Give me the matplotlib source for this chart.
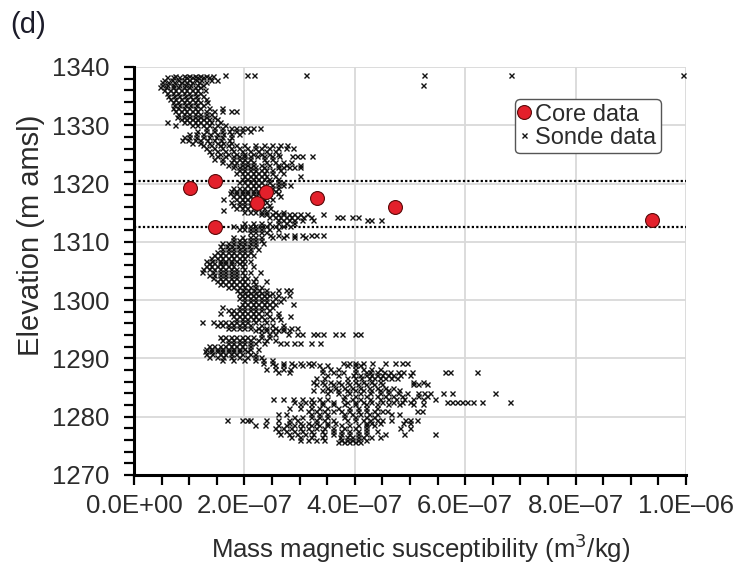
import numpy as np
import matplotlib
matplotlib.use("Agg")
import matplotlib.pyplot as plt
from matplotlib.ticker import MultipleLocator

plt.rcParams['font.family'] = ['Liberation Sans', 'DejaVu Sans']

SCALE = 1e-7  # susceptibility values below are in units of 1e-7 m3/kg

# ---- Core data ----
core_sus = [1.02, 1.47, 2.39, 2.23, 3.31, 1.47, 4.72, 9.38]
core_elev = [1319.2, 1320.4, 1318.6, 1316.7, 1317.5, 1312.5, 1315.9, 1313.7]

# ---- Sonde data (elevation, susceptibility values at that elevation) ----
sonde_upper = [
    (1338.7, [1.65, 2.05, 2.17, 3.12, 5.25, 6.83, 9.95]),
    (1338.5, [0.75, 0.9, 1.0, 1.1, 1.2, 1.3, 1.43]),
    (1338.2, [0.6, 0.7, 0.82, 0.95, 1.05, 1.15, 1.25, 1.35]),
    (1337.8, [0.55, 0.68, 0.8, 0.9, 1.0, 1.12, 1.22, 1.4, 1.5]),
    (1337.4, [0.5, 0.62, 0.72, 0.85, 0.95, 1.05, 1.18, 1.3]),
    (1336.9, [0.5, 0.6, 0.7, 0.82, 0.92, 1.02, 1.15, 1.25, 5.23]),
    (1336.5, [0.48, 0.58, 0.7, 0.8, 0.9, 1.0, 1.1, 1.2]),
    (1336.0, [0.55, 0.65, 0.75, 0.85, 0.95, 1.05, 1.15, 1.28]),
    (1335.5, [0.6, 0.7, 0.8, 0.9, 1.0, 1.1, 1.2]),
    (1335.0, [0.62, 0.72, 0.82, 0.92, 1.02, 1.12, 1.25]),
    (1334.5, [0.65, 0.75, 0.85, 0.95, 1.05, 1.15, 1.3]),
    (1334.0, [0.7, 0.8, 0.9, 1.0, 1.1, 1.2, 1.32]),
    (1333.5, [0.72, 0.82, 0.92, 1.02, 1.12, 1.25]),
    (1333.0, [0.7, 0.8, 0.9, 1.0, 1.1, 1.2, 1.35, 1.6]),
    (1332.5, [0.75, 0.85, 0.95, 1.05, 1.15, 1.3, 1.45, 1.6, 1.75, 1.85]),
    (1332.0, [0.8, 0.9, 1.0, 1.1, 1.2, 1.3, 1.4]),
    (1331.5, [0.78, 0.9, 1.0, 1.1, 1.2, 1.3, 1.45]),
    (1331.0, [0.85, 0.95, 1.05, 1.15, 1.25, 1.35, 1.5]),
    (1330.5, [0.6, 0.9, 1.0, 1.1, 1.2, 1.3, 1.4, 1.55]),
    (1330.0, [0.75, 1.05, 1.15, 1.25, 1.35, 1.5, 1.65]),
    (1329.5, [1.3, 1.45, 1.6, 1.75, 1.85, 1.95, 2.05, 2.15, 2.28]),
    (1329.0, [1.15, 1.3, 1.45, 1.6, 1.72, 1.85, 1.95, 2.1]),
    (1328.5, [1.0, 1.12, 1.25, 1.38, 1.5, 1.62, 1.75, 1.9]),
    (1328.0, [0.9, 1.0, 1.12, 1.25, 1.35, 1.48, 1.6, 1.75]),
    (1327.5, [0.87, 0.98, 1.1, 1.2, 1.32, 1.45, 1.58, 1.72]),
    (1327.0, [1.05, 1.2, 1.35, 1.5, 1.62, 1.75]),
]

sonde_core = [
    (1326.6, [1.25, 1.4, 1.55, 1.7, 1.85, 2.0, 2.2, 2.35, 2.5, 2.65, 2.77]),
    (1326.1, [1.3, 1.45, 1.6, 1.75, 1.9, 2.05, 2.19, 2.3, 2.45, 2.6, 2.75, 2.88]),
    (1325.6, [1.35, 1.5, 1.65, 1.8, 1.95, 2.1, 2.25, 2.4, 2.55]),
    (1325.1, [1.4, 1.55, 1.7, 1.85, 2.0, 2.15, 2.3, 2.45, 2.6]),
    (1324.7, [1.5, 1.65, 1.8, 1.9, 2.0, 2.1, 2.22, 2.35, 2.5, 2.62, 2.86, 2.95, 3.04, 3.22]),
    (1324.2, [1.45, 1.6, 1.8, 1.9, 2.0, 2.1, 2.35, 2.5]),
    (1323.7, [1.6, 1.75, 1.85, 1.95, 2.05, 2.15, 2.4, 2.55, 2.7, 2.85]),
    (1323.2, [1.7, 1.82, 1.95, 2.05, 2.15, 2.3, 2.45, 2.6, 2.75, 3.0]),
    (1322.8, [1.8, 1.9, 2.0, 2.1, 2.2, 2.35, 2.6, 2.7, 2.8, 2.9, 3.0]),
    (1322.3, [1.9, 2.0, 2.1, 2.2, 2.3, 2.4, 2.5, 2.65]),
    (1321.8, [1.85, 1.95, 2.05, 2.15, 2.25, 2.35, 2.5, 2.7]),
    (1321.3, [2.0, 2.1, 2.2, 2.3, 2.4, 2.55, 3.0]),
    (1320.8, [1.95, 2.05, 2.15, 2.25, 2.35, 2.45, 2.6]),
    (1320.3, [1.9, 2.0, 2.1, 2.2, 2.3, 2.45, 2.6, 2.7]),
    (1319.8, [2.04, 2.15, 2.25, 2.35, 2.5, 2.6, 2.7, 2.83]),
    (1319.3, [1.8, 1.9, 2.0, 2.1, 2.2, 2.3, 2.4, 2.5, 2.6]),
    (1318.8, [1.75, 1.85, 1.95, 2.05, 2.15, 2.25, 2.35, 2.45, 2.55]),
    (1318.3, [1.74, 1.85, 1.95, 2.05, 2.15, 2.25, 2.35, 2.45, 2.6]),
    (1317.8, [1.8, 1.9, 2.0, 2.1, 2.2, 2.3, 2.45, 2.64]),
    (1317.3, [1.62, 1.85, 1.95, 2.05, 2.15, 2.25, 2.35, 2.5]),
    (1316.8, [1.75, 1.9, 2.0, 2.1, 2.2, 2.3, 2.4]),
    (1316.3, [1.8, 1.9, 2.0, 2.1, 2.2, 2.3, 2.45]),
    (1315.8, [1.85, 1.95, 2.05, 2.15, 2.25, 2.35, 2.46]),
    (1315.5, [1.62]),
    (1315.2, [2.0, 2.1, 2.2, 2.3, 2.4, 2.55, 2.7]),
    (1314.7, [2.3, 2.4, 2.5, 2.6, 2.7, 2.8, 2.9, 3.0, 3.13, 3.42]),
    (1314.2, [2.45, 2.55, 2.65, 2.75, 2.85, 2.95, 3.07, 3.2, 3.68, 3.77, 3.95, 4.06]),
    (1313.7, [2.6, 2.7, 2.8, 2.9, 3.05, 3.24, 4.22, 4.3, 4.47]),
    (1313.2, [2.0, 2.15, 2.3, 2.45, 2.6, 2.75, 2.9]),
    (1312.7, [1.8, 1.95, 2.1, 2.2, 2.3, 2.4, 2.55, 2.7, 2.83]),
    (1312.2, [1.9, 2.0, 2.1, 2.2, 2.3, 2.45, 2.6]),
    (1311.7, [2.1, 2.2, 2.3, 2.4]),
    (1311.2, [2.46, 2.6, 2.75, 2.9, 3.05, 3.2, 3.3, 3.42]),
    (1310.8, [1.8, 1.95, 2.1, 2.2, 2.3, 2.5, 2.7, 2.9, 3.1]),
]

sonde_middle = [
    (1310.3, [1.8, 1.9, 2.0, 2.1, 2.2, 2.3]),
    (1309.8, [1.6, 1.7, 1.8, 1.9, 2.0, 2.1, 2.2, 2.34]),
    (1309.3, [1.56, 1.68, 1.78, 1.88, 1.98, 2.08, 2.2]),
    (1308.8, [1.6, 1.7, 1.8, 1.9, 2.0, 2.1, 2.25]),
    (1308.3, [1.5, 1.6, 1.7, 1.8, 1.9, 2.0, 2.1]),
    (1307.8, [1.45, 1.55, 1.65, 1.75, 1.85, 1.95, 2.05, 2.15]),
    (1307.3, [1.4, 1.5, 1.6, 1.7, 1.8, 1.9, 2.0]),
    (1306.8, [1.3, 1.42, 1.55, 1.65, 1.75, 1.85, 1.95, 2.1]),
    (1306.3, [1.35, 1.45, 1.55, 1.65, 1.75, 1.9, 2.0]),
    (1305.8, [1.3, 1.4, 1.5, 1.6, 1.7, 1.8, 1.95, 2.15]),
    (1305.3, [1.25, 1.35, 1.45, 1.55, 1.65, 1.75, 1.85, 2.0]),
    (1304.8, [1.23, 1.43, 1.55, 1.65, 1.75, 1.85, 1.95, 2.1, 2.28]),
    (1304.3, [1.35, 1.45, 1.55, 1.65, 1.75, 1.85, 2.0]),
    (1303.8, [1.43, 1.55, 1.65, 1.75, 1.85, 1.95, 2.05, 2.2]),
    (1303.3, [1.5, 1.6, 1.7, 1.8, 1.9, 2.0, 2.15, 2.4]),
    (1302.8, [1.55, 1.65, 1.75, 1.85, 1.95, 2.05, 2.2]),
    (1302.3, [1.7, 1.8, 1.9, 2.0, 2.1, 2.2, 2.3]),
    (1301.8, [1.87, 1.97, 2.07, 2.17, 2.27, 2.4, 2.6, 2.75, 2.83]),
    (1301.3, [1.9, 2.0, 2.1, 2.2, 2.3, 2.4, 2.5]),
    (1300.8, [1.95, 2.05, 2.15, 2.25, 2.35, 2.45, 2.6, 2.8]),
    (1300.3, [1.9, 2.0, 2.1, 2.2, 2.3, 2.4, 2.55, 2.7]),
    (1299.8, [2.0, 2.1, 2.2, 2.3, 2.4, 2.5, 2.65]),
    (1299.3, [1.95, 2.05, 2.15, 2.25, 2.35, 2.45, 2.55, 2.88]),
    (1298.8, [1.6, 1.9, 2.0, 2.1, 2.2, 2.3, 2.4, 2.5]),
    (1298.3, [1.7, 1.8, 1.9, 2.0, 2.1, 2.2, 2.3, 2.45]),
    (1297.8, [1.56, 1.75, 1.85, 1.95, 2.05, 2.15, 2.25, 2.4, 2.6]),
    (1297.3, [1.8, 1.9, 2.0, 2.1, 2.2, 2.3, 2.45, 2.6, 2.83]),
    (1296.8, [1.85, 1.95, 2.05, 2.15, 2.25, 2.35, 2.5, 2.65]),
    (1296.3, [1.23, 1.43, 1.55, 1.65, 1.75, 1.85, 1.95, 2.05, 2.2, 2.4]),
    (1295.8, [1.5, 1.6, 1.7, 1.8, 1.9, 2.0, 2.1, 2.3, 2.5, 2.7]),
    (1295.3, [1.7, 1.8, 1.9, 2.0, 2.1, 2.25, 2.4, 2.55, 2.7, 2.85, 2.95]),
    (1294.8, [2.2, 2.3, 2.4, 2.5, 2.6, 2.7, 2.8]),
    (1294.2, [2.3, 2.45, 2.55, 2.79, 2.95, 3.04, 3.24, 3.31, 3.42, 3.64, 3.77, 4.0, 4.1]),
    (1293.7, [1.56, 1.65, 1.75, 1.85, 1.95, 2.05, 2.15, 2.3, 2.45]),
    (1293.2, [1.6, 1.7, 1.8, 1.9, 2.0, 2.1, 2.25, 2.4, 2.55]),
    (1292.7, [1.7, 1.8, 1.9, 2.0, 2.1, 2.2, 2.35, 2.64, 2.75, 2.9, 3.0, 3.2, 3.37]),
    (1292.2, [1.35, 1.45, 1.55, 1.65, 1.75, 1.85, 1.95, 2.1]),
    (1291.7, [1.3, 1.4, 1.5, 1.6, 1.7, 1.8, 1.9, 2.0, 2.1, 2.25]),
    (1291.2, [1.29, 1.4, 1.5, 1.6, 1.7, 1.8, 1.9, 2.04]),
    (1290.7, [1.3, 1.42, 1.55, 1.65, 1.75, 1.85, 1.95, 2.1, 2.2]),
    (1290.2, [1.35, 1.5, 1.62, 1.75, 1.9, 2.04, 2.2, 2.3]),
    (1289.7, [1.6, 1.8, 2.0, 2.2, 2.34, 2.5]),
]

sonde_lower = [
    (1289.3, [2.34, 2.5, 2.7, 2.85, 3.0, 3.15, 3.24, 3.79, 3.9, 4.0, 4.15, 4.31, 4.55, 4.73, 4.86, 4.95]),
    (1288.8, [2.55, 2.7, 2.9, 3.05, 3.2, 3.35, 3.5, 3.85, 4.0, 4.1]),
    (1288.2, [2.4, 2.55, 2.7, 2.83, 3.4, 3.55, 3.7, 4.0, 4.15, 4.3, 4.45]),
    (1287.6, [2.6, 2.8, 3.4, 3.6, 3.79, 4.0, 4.2, 4.28, 4.4, 4.52, 4.64, 4.78, 4.87, 5.04, 5.63, 5.72, 6.21]),
    (1287.1, [3.5, 3.7, 3.97, 4.1, 4.2, 4.3, 4.4, 4.5, 4.6, 4.7, 4.82, 5.0]),
    (1286.6, [3.3, 3.45, 3.85, 4.0, 4.12, 4.25, 4.35, 4.45, 4.55, 4.65, 4.76]),
    (1286.0, [3.24, 3.4, 3.55, 3.7, 3.85, 4.0, 4.15, 4.3, 4.45, 5.05, 5.24]),
    (1285.6, [3.3, 3.45, 3.6, 3.75, 3.9, 4.05, 4.2, 4.35, 4.5, 5.05, 5.15, 5.3]),
    (1285.0, [3.5, 3.65, 3.8, 3.95, 4.1, 4.25, 4.4, 4.55, 4.7]),
    (1284.5, [3.24, 3.4, 3.55, 3.7, 3.85, 4.0, 4.15, 4.3, 4.45, 4.6, 4.8]),
    (1284.1, [3.5, 3.7, 3.9, 4.1, 4.28, 4.45, 4.6, 4.78, 4.95, 5.14, 5.25, 5.36, 5.6, 5.76, 6.54]),
    (1283.6, [3.8, 4.0, 4.2, 4.4, 4.55, 4.7, 4.85, 5.15, 5.3]),
    (1283.1, [2.52, 2.7, 2.88, 3.05, 3.2, 3.35, 3.5, 3.79, 3.95, 4.1, 4.28, 4.45, 4.6, 4.75, 4.9, 5.05, 5.24, 5.45]),
    (1282.6, [2.9, 3.1, 3.25, 3.4, 3.6, 3.85, 4.0, 4.15, 4.3, 4.5, 4.69, 4.85, 5.0, 5.67, 5.76, 5.85, 5.95, 6.03, 6.14, 6.3, 6.81]),
    (1282.1, [3.0, 3.2, 3.4, 3.6, 3.8, 4.0, 4.2, 4.4, 4.6, 4.8, 5.05, 5.24]),
    (1281.5, [2.8, 3.0, 3.2, 3.35, 3.5, 3.7, 3.9, 4.05, 4.2, 4.4]),
    (1281.0, [3.15, 3.3, 3.45, 3.6, 3.75, 3.9, 4.05, 4.2, 4.35, 4.5, 4.58, 5.13, 5.22]),
    (1280.5, [2.6, 2.75, 3.2, 3.35, 3.5, 3.8, 3.95, 4.1, 4.25, 4.4, 4.65, 4.8]),
    (1280.0, [2.9, 3.05, 3.2, 3.35, 3.5, 3.8, 4.0, 4.2, 4.35]),
    (1279.5, [1.68, 1.96, 2.05, 2.1, 2.4, 2.6, 2.8, 2.95, 3.3, 3.45, 3.6, 3.85, 4.0, 4.15, 4.28, 4.4, 4.5, 4.65, 4.91, 5.0, 5.13]),
    (1279.0, [2.8, 3.0, 3.15, 3.3, 3.5, 3.65, 4.2, 4.3, 4.45, 4.87, 5.0]),
    (1278.5, [2.19, 2.37, 2.6, 2.75, 2.9, 3.05, 3.2, 3.35, 3.5, 3.75, 3.9, 4.05, 4.2, 4.35]),
    (1278.0, [2.55, 2.7, 2.85, 3.0, 3.15, 3.3, 3.45, 3.6, 3.8, 4.0, 4.2, 4.82, 5.0]),
    (1277.5, [2.6, 2.75, 2.9, 3.05, 3.2, 3.4, 3.6, 3.75, 3.9, 4.05, 4.2, 4.4]),
    (1277.0, [2.65, 2.8, 2.95, 3.1, 3.25, 3.45, 3.6, 3.75, 3.9, 4.05, 4.2, 4.55, 4.9, 5.45]),
    (1276.5, [2.85, 3.0, 3.2, 3.4, 3.73, 3.85, 3.95, 4.05, 4.15, 4.3, 4.46]),
    (1276.0, [3.0, 3.15, 3.3, 3.45, 3.75, 3.85, 3.95, 4.05, 4.2]),
    (1275.6, [3.7, 3.8, 3.9, 4.0, 4.1]),
]

x_ticks = [0, 2, 4, 6, 8, 10]
x_tick_labels = ["0.0E+00", "2.0E\u201307", "4.0E\u201307", "6.0E\u201307",
                 "8.0E\u201307", "1.0E\u201306"]
y_ticks = [1270, 1280, 1290, 1300, 1310, 1320, 1330, 1340]
boundary_elev = [1320.4, 1312.5]

# ---- flatten sonde rows ----
sonde_x, sonde_y = [], []
for rows in (sonde_upper, sonde_core, sonde_middle, sonde_lower):
    for elev, xs in rows:
        for v in xs:
            sonde_x.append(v * SCALE)
            sonde_y.append(elev)

W, H = 739, 567
fig = plt.figure(figsize=(W / 100, H / 100), dpi=100)
ax = fig.add_axes([134 / W, 1 - 475 / H, 552 / W, 408 / H])

text_col = '#2b2b2b'
grid_col = '#d9d9d9'

ax.set_xlim(0, 1e-6)
ax.set_ylim(1270, 1340)

ax.set_xticks([t * SCALE for t in x_ticks])
ax.set_xticklabels(x_tick_labels)
ax.xaxis.set_minor_locator(MultipleLocator(0.5 * SCALE))
ax.set_yticks(y_ticks)
ax.yaxis.set_minor_locator(MultipleLocator(2))

ax.grid(True, which='major', color=grid_col, linewidth=1.3, zorder=0)
ax.set_axisbelow(True)

for s in ('top', 'right'):
    ax.spines[s].set_visible(False)
for s in ('left', 'bottom'):
    ax.spines[s].set_linewidth(2.2)
    ax.spines[s].set_color('black')

ax.tick_params(which='both', direction='out', length=7, width=1.6, color='black')
ax.tick_params(which='major', labelsize=18.5, labelcolor=text_col)
ax.tick_params(axis='y', which='major', pad=11)
ax.tick_params(axis='x', which='major', pad=7)

# dotted boundary lines
for e in boundary_elev:
    ax.axhline(e, color='black', linestyle=(0, (1, 1)), linewidth=1.6, zorder=2)

ax.plot(sonde_x, sonde_y, linestyle='none', marker='x', markersize=3.6,
        markeredgewidth=1.0, color='#111111', zorder=3, label='Sonde data')
ax.plot([v * SCALE for v in core_sus], core_elev, linestyle='none', marker='o',
        markersize=10, markerfacecolor='#e3202b', markeredgecolor='#5a0a0a',
        markeredgewidth=0.8, zorder=4, label='Core data')

handles, labels = ax.get_legend_handles_labels()
leg = ax.legend(handles[::-1], labels[::-1], loc='upper left',
                bbox_to_anchor=(0.69, 0.922), fontsize=17, frameon=True,
                fancybox=True, edgecolor='#555555', framealpha=1,
                handlelength=0.4, handletextpad=0.25, borderpad=0.2,
                labelspacing=0.05, borderaxespad=0, markerscale=1.0)
for t in leg.get_texts():
    t.set_color(text_col)
leg.get_frame().set_linewidth(1.0)

fig.text(31 / W, 1 - 235 / H, 'Elevation (m amsl)', rotation=90, ha='center',
         va='center', fontsize=21, color=text_col)
fig.text(421 / W, 1 - 548 / H, 'Mass magnetic susceptibility (m$^{3}$/kg)',
         ha='center', va='center', fontsize=18.5, color=text_col)
fig.text(10 / W, 1 - 25 / H, '(d)', ha='left', va='center', fontsize=21,
         color='#1c1c2a')

fig.savefig('out.png', dpi=100)
